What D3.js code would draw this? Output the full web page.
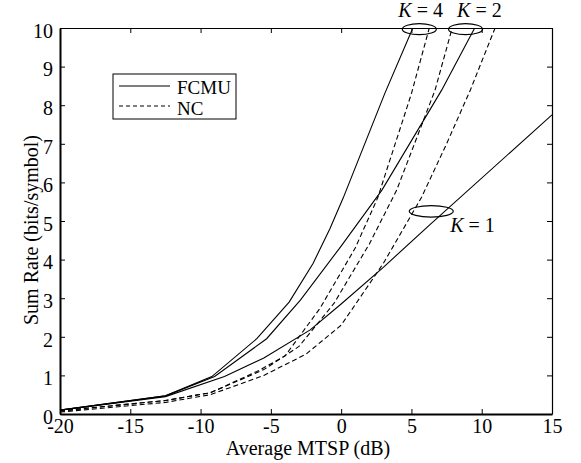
<!DOCTYPE html>
<meta charset="utf-8">
<script src="https://d3js.org/d3.v7.min.js"></script>
<style>
  body { margin: 0; background: #fff; }
</style>
<div id="chart"></div>
<script>

// axis ticks
var xTicks = [-20, -15, -10, -5, 0, 5, 10, 15];
var yTicks = [0, 1, 2, 3, 4, 5, 6, 7, 8, 9, 10];

// FCMU curves (solid), [MTSP dB, sum rate]
var fcmuK1 = [[-20,0.1],[-12.5,0.45],[-8.3,0.97],[-5.5,1.45],[-2.2,2.18],[0,2.85],[3,3.8],[6.3,4.9],[15,7.75]];
var fcmuK2 = [[-20,0.1],[-12.5,0.47],[-9.0,0.97],[-5.3,1.95],[-2.9,2.95],[0,4.35],[2.9,5.8],[7.15,8.39],[9.5,10]];
var fcmuK4 = [[-20,0.1],[-12.5,0.47],[-9.2,0.97],[-6.0,1.95],[-3.7,2.9],[-2,3.9],[-0.8,4.8],[0.15,5.6],[3.1,8.3],[5.1,10]];

// NC curves (dashed)
var ncK1 = [[-20,0.05],[-12.5,0.3],[-9.3,0.5],[-5.5,1.0],[-2.5,1.55],[0,2.3],[3,3.9],[5.7,5.6],[7.5,7.0],[9.2,8.4],[10.95,10]];
var ncK2 = [[-20,0.08],[-12.5,0.35],[-9.3,0.55],[-5.5,1.15],[-3,1.75],[-0.5,2.87],[2,4.4],[3.95,5.8],[6.68,8.39],[7.9,10]];
var ncK4 = [[-20,0.08],[-12.5,0.35],[-9.3,0.55],[-6,1.1],[-4,1.5],[-1.5,2.74],[1,4.3],[2.6,5.6],[5.0,8.3],[6.27,10]];

// ellipse markers and their labels [x, y, label]
var groupMarks = [[5.56, 9.97, "4"], [8.85, 9.97, "2"], [6.41, 5.25, "1"]];

var serif = '"Liberation Serif", Tinos, "Times New Roman", Times, serif';
var fontSize = "20px";

var margin = {top: 28, right: 29, bottom: 49, left: 60},
    width = 581 - margin.left - margin.right,
    height = 463 - margin.top - margin.bottom;

var svg = d3.select("#chart")
  .append("svg")
    .attr("width", 581)
    .attr("height", 463)
  .append("g")
    .attr("transform", "translate(" + margin.left + "," + margin.top + ")");

var x = d3.scaleLinear().domain([-20, 15]).range([0, width]);
var y = d3.scaleLinear().domain([0, 10]).range([height, 0]);

// clip the curves to the frame
svg.append("clipPath").attr("id", "clip")
  .append("rect").attr("width", width).attr("height", height);

var line = d3.line()
  .x(function(d) { return x(d[0]); })
  .y(function(d) { return y(d[1]); });

var plot = svg.append("g").attr("clip-path", "url(#clip)");

[fcmuK1, fcmuK2, fcmuK4].forEach(function(s) {
  plot.append("path").datum(s)
    .attr("d", line)
    .attr("fill", "none")
    .attr("stroke", "#000")
    .attr("stroke-width", 1.1);
});

[ncK1, ncK2, ncK4].forEach(function(s) {
  plot.append("path").datum(s)
    .attr("d", line)
    .attr("fill", "none")
    .attr("stroke", "#000")
    .attr("stroke-width", 1.1)
    .attr("stroke-dasharray", "5,3");
});

// axes, matlab style ticks pointing inward
function styleText(g) {
  g.selectAll("text")
    .style("font-family", serif)
    .style("font-size", fontSize);
}

svg.append("g")
  .attr("transform", "translate(0," + height + ")")
  .call(d3.axisBottom(x).tickValues(xTicks).tickFormat(function(d) { return String(d); })
    .tickSizeInner(-5).tickSizeOuter(0).tickPadding(5))
  .call(function(g) {
    g.select(".domain").attr("stroke-width", 2);
    styleText(g);
  });

svg.append("g")
  .call(d3.axisLeft(y).tickValues(yTicks).tickSizeInner(-5).tickSizeOuter(0).tickPadding(7))
  .call(function(g) {
    g.select(".domain").attr("stroke-width", 2);
    styleText(g);
    g.selectAll("text").attr("dy", "0.46em");
  });

svg.append("g")
  .call(d3.axisTop(x).tickValues(xTicks).tickSizeInner(-5).tickSizeOuter(0).tickFormat(""))
  .call(function(g) { g.select(".domain").attr("stroke-width", 1.2); });

svg.append("g")
  .attr("transform", "translate(" + width + ",0)")
  .call(d3.axisRight(y).tickValues(yTicks).tickSizeInner(-5).tickSizeOuter(0).tickFormat(""))
  .call(function(g) { g.select(".domain").attr("stroke-width", 1.2); });

// axis titles
svg.append("text")
  .attr("x", 248)
  .attr("y", height + 41)
  .attr("text-anchor", "middle")
  .style("font-family", serif)
  .style("font-size", fontSize)
  .text("Average MTSP (dB)");

svg.append("text")
  .attr("transform", "rotate(-90)")
  .attr("x", -202)
  .attr("y", -22)
  .attr("text-anchor", "middle")
  .style("font-family", serif)
  .style("font-size", fontSize)
  .text("Sum Rate (bits/symbol)");

// ellipses marking curve groups
svg.selectAll(".mark")
  .data(groupMarks)
  .enter().append("ellipse")
    .attr("cx", function(d) { return x(d[0]); })
    .attr("cy", function(d) { return y(d[1]); })
    .attr("rx", function(d, i) { return i == 2 ? 22 : 17; })
    .attr("ry", function(d, i) { return i == 2 ? 5.8 : 5.5; })
    .attr("fill", "none")
    .attr("stroke", "#000")
    .attr("stroke-width", 1.2);

var labelPos = [[-21, -12], [-8.5, -12], [19, 20.5]];
var labels = svg.selectAll(".klabel")
  .data(groupMarks)
  .enter().append("text")
    .attr("x", function(d, i) { return x(d[0]) + labelPos[i][0]; })
    .attr("y", function(d, i) { return y(d[1]) + labelPos[i][1]; })
    .style("font-family", serif)
    .style("font-size", fontSize);
labels.append("tspan").style("font-style", "italic").text("K");
labels.append("tspan").text(function(d) { return " = " + d[2]; });

// legend
var legend = svg.append("g").attr("transform", "translate(53,46)");
legend.append("rect")
  .attr("width", 123).attr("height", 45)
  .attr("fill", "#fff").attr("stroke", "#000").attr("stroke-width", 1);
["FCMU", "NC"].forEach(function(name, i) {
  legend.append("line")
    .attr("x1", 6).attr("x2", 57)
    .attr("y1", 12 + i * 20).attr("y2", 12 + i * 20)
    .attr("stroke", "#000").attr("stroke-width", 1.1)
    .attr("stroke-dasharray", i == 1 ? "4,3" : null);
  legend.append("text")
    .attr("x", 64).attr("y", 20 + i * 21)
    .style("font-family", serif)
    .style("font-size", "19px")
    .text(name);
});

</script>
